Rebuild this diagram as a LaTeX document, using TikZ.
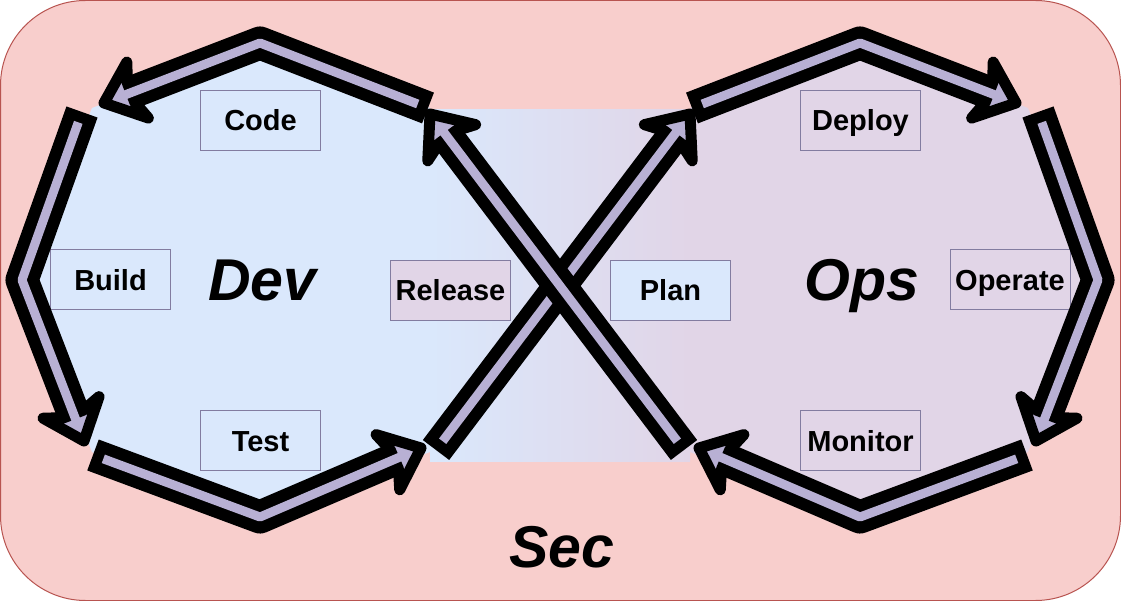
\documentclass[tikz,border=0pt]{standalone}
\definecolor{devblue}{RGB}{218,232,252}
\definecolor{opspurple}{RGB}{225,213,231}
\definecolor{secpink}{RGB}{248,206,204}
\definecolor{secborder}{RGB}{184,84,80}
\definecolor{lav}{RGB}{184,176,212}
\definecolor{boxgray}{RGB}{130,124,160}
\usepackage{fontspec}
\setmainfont{Liberation Sans}
\usepackage{tikz}
\usetikzlibrary{calc}

% shaft, head, inner stripe
\newcommand{\flexarrow}[3]{%
	\draw[shaftout] #1 -- (#2);
	\filldraw[head] (#2) -- ($(#2)!36pt!(#3)!30pt!90:(#3)$) -- ($(#2)!29pt!(#3)!10.5pt!90:(#3)$) -- ($(#2)!29pt!(#3)!10.5pt!-90:(#3)$) -- ($(#2)!36pt!(#3)!30pt!-90:(#3)$) -- cycle;
	\draw[shaftin] #1 -- (#2);
}

\begin{document}
\begin{tikzpicture}[x=1pt,y=-1pt]
				\tikzstyle{stage}=[draw=boxgray, line width=1pt, minimum width=120pt, minimum height=60pt, inner sep=0pt, font=\fontsize{29}{34}\selectfont\bfseries, text height=21pt, text depth=0pt];
				\tikzstyle{phase}=[font=\fontsize{59}{70}\selectfont\bfseries\itshape, anchor=base, inner sep=0pt];
				\tikzstyle{shaftout}=[draw=black, line width=33pt, line join=round, shorten >=28pt];
				\tikzstyle{shaftin}=[draw=lav, line width=9pt, line join=round, shorten <=11pt, shorten >=21pt];
				\tikzstyle{head}=[fill=lav, draw=black, line width=11pt, line join=round];
				\useasboundingbox (0,0) rectangle (1121,601);
				\draw[draw=secborder, fill=secpink, line width=1pt, rounded corners=85pt] (0.5,0.5) rectangle (1120.5,600.5);
				% corners of the two loops
				\coordinate (devN) at (260,43);
				\coordinate (devW) at (22,280);
				\coordinate (devS) at (260,517);
				\coordinate (dev1t) at (428,108);
				\coordinate (dev1h) at (104,103);
				\coordinate (dev2t) at (82,112);
				\coordinate (dev2h) at (84,441);
				\coordinate (dev3t) at (93,455);
				\coordinate (dev3h) at (421,448);
				\coordinate (x1t) at (436,450);
				\coordinate (x1h) at (690,114);
				\coordinate (x2t) at (684,450);
				\coordinate (x2h) at (430,114);
				\coordinate (opsN) at (860,43);
				\coordinate (opsE) at (1098,280);
				\coordinate (opsS) at (860,517);
				\coordinate (ops1t) at (692,108);
				\coordinate (ops1h) at (1016,103);
				\coordinate (ops2t) at (1038,112);
				\coordinate (ops2h) at (1036,441);
				\coordinate (ops3t) at (1027,455);
				\coordinate (ops3h) at (699,448);
				\fill[devblue] (430,108) -- (devN) -- (92,108) -- (devW) -- (92,452) -- (devS) -- (430,452) -- cycle;
				\fill[opspurple] (690,108) -- (opsN) -- (1028,108) -- (opsE) -- (1028,452) -- (opsS) -- (690,452) -- cycle;
				\shade[left color=devblue, right color=opspurple] (430,110) rectangle (690,461);
				\node[stage] (code) at (260.5,120.5) {Code};
				\node[stage] (build) at (110.5,280) {Build};
				\node[stage] (test) at (260.5,440.5) {Test};
				\node[stage, fill=opspurple] (release) at (450.5,290.5) {Release};
				\node[stage, fill=devblue] (plan) at (670.5,290.5) {Plan};
				\node[stage] (deploy) at (860.5,120.5) {Deploy};
				\node[stage] (operate) at (1010,280) {Operate};
				\node[stage] (monitor) at (860.5,440.5) {Monitor};
				\node[phase] (dev) at (262.5,301) {Dev};
				\node[phase] (ops) at (861.5,301) {Ops};
				\node[phase] (sec) at (562,567) {Sec};
				\flexarrow{(x1t)}{x1h}{x1t}
				\flexarrow{(x2t)}{x2h}{x2t}
				\flexarrow{(dev3t) -- (devS)}{dev3h}{devS}
				\flexarrow{(dev2t) -- (devW)}{dev2h}{devW}
				\flexarrow{(dev1t) -- (devN)}{dev1h}{devN}
				\flexarrow{(ops3t) -- (opsS)}{ops3h}{opsS}
				\flexarrow{(ops2t) -- (opsE)}{ops2h}{opsE}
				\flexarrow{(ops1t) -- (opsN)}{ops1h}{opsN}
\end{tikzpicture}
\end{document}
